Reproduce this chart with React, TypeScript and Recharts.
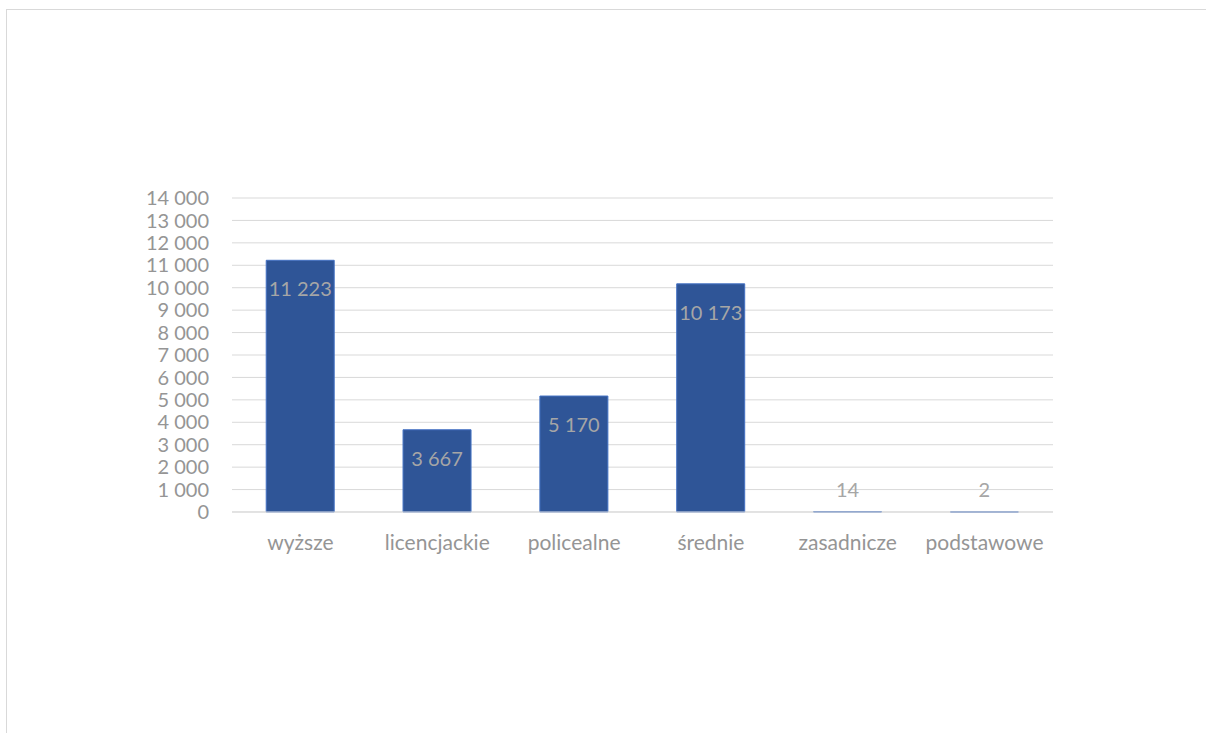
import { Bar, BarChart, CartesianGrid, LabelList, XAxis, YAxis } from 'recharts';

const categories = ['wyższe', 'licencjackie', 'policealne', 'średnie', 'zasadnicze', 'podstawowe'];
const counts = [11223, 3667, 5170, 10173, 14, 2];
const yTicks = [0, 1000, 2000, 3000, 4000, 5000, 6000, 7000, 8000, 9000, 10000, 11000, 12000, 13000, 14000];

const data = categories.map((name, i) => ({ name, value: counts[i] }));

const fmt = (v: number) => String(v).replace(/\B(?=(\d{3})+(?!\d))/g, ' ');

const FONT = 'Lato, "Open Sans", sans-serif';

// Excel-style "inside end" labels: tiny bars get their label above
function ValueLabel(props: any) {
  const { x, y, width, height, value } = props;
  const inside = height > 40;
  return (
    <text
      x={x + width / 2}
      y={inside ? y + 28 : y - 23}
      textAnchor="middle"
      dominantBaseline="central"
      fill="#A6A6A6"
      fontSize={20}
      fontFamily={FONT}
    >
      {fmt(value)}
    </text>
  );
}

export default function App() {
  return (
    <div style={{ position: 'fixed', left: 0, top: 0, width: 1206, height: 733, background: '#fff', overflow: 'hidden' }}>
      <div style={{ position: 'absolute', left: 6, top: 9, width: 1260, height: 800, border: '1px solid #D9D9D9' }} />
      <div style={{ position: 'absolute', left: 0, top: 0 }}>
        <BarChart width={1206} height={733} data={data} margin={{ top: 198, right: 153, left: 0, bottom: 161 }} barCategoryGap="25%">
          <CartesianGrid vertical={false} stroke="#D9D9D9" />
          <XAxis
            dataKey="name"
            axisLine={{ stroke: '#D9D9D9' }}
            tickLine={false}
            tickMargin={17}
            height={60}
            tick={{ fill: '#959595', fontSize: 21, fontFamily: FONT }}
            interval={0}
          />
          <YAxis
            width={232}
            domain={[0, 14000]}
            ticks={yTicks}
            interval={0}
            axisLine={false}
            tickLine={false}
            tickMargin={17}
            tickFormatter={fmt}
            tick={{ fill: '#959595', fontSize: 20, fontFamily: FONT }}
          />
          <Bar dataKey="value" fill="#2F5597" stroke="#4472C4" strokeWidth={1} isAnimationActive={false}>
            <LabelList dataKey="value" content={ValueLabel} />
          </Bar>
        </BarChart>
      </div>
    </div>
  );
}
